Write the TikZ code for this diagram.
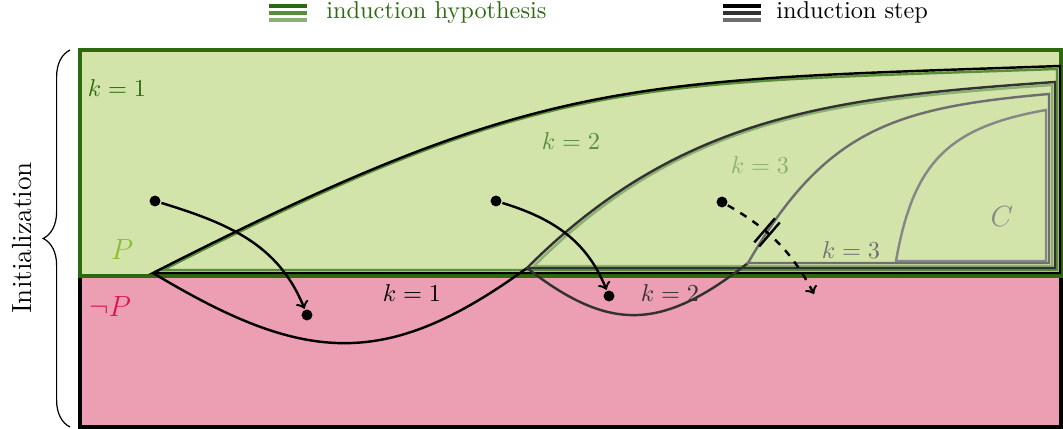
\documentclass[tikz,border=0pt]{standalone}
\usepackage{amsmath,amssymb}
\usepackage{xcolor}
\usepackage{tikz}
\usetikzlibrary{decorations.pathreplacing,decorations.markings}

\definecolor{hypone}{RGB}{45,106,14}
\definecolor{hyptwo}{RGB}{90,140,60}
\definecolor{hypthree}{RGB}{140,175,115}
\definecolor{steptwo}{RGB}{50,50,50}
\definecolor{stepthree}{RGB}{110,110,110}
\definecolor{setC}{RGB}{135,135,135}
\definecolor{goodfill}{RGB}{211,228,171}
\definecolor{badfill}{RGB}{236,159,178}
\definecolor{Pcol}{RGB}{140,190,50}
\definecolor{notPcol}{RGB}{215,25,80}

\begin{document}
\begin{tikzpicture}[x=0.01443cm, y=0.01443cm, >=to, line width=1pt]

\tikzstyle{dot}     = [circle, fill=black, inner sep=0pt, minimum size=4.5pt]
\tikzstyle{legline} = [line width=1.3pt]
\tikzstyle{border}  = [line width=1.25pt]
\tikzstyle{blocked} = [dashed, postaction={decorate},
                       decoration={markings, mark=at position 0.38 with
                       {\draw[solid, -] (-1.3pt,-6.5pt) -- (-1.3pt,6.5pt)
                                        (1.3pt,-6.5pt) -- (1.3pt,6.5pt);}}]

\useasboundingbox (0,0) rectangle (1063,-429);

% ── Legend ─────────────────────────────────────────────
\draw[legline, hypone]    (269,-6)  -- (307,-6);
\draw[legline, hyptwo]    (269,-13) -- (307,-13);
\draw[legline, hypthree]  (269,-20) -- (307,-20);
\node[anchor=west, text=hypone] (leghyp) at (317,-12.5) {induction hypothesis};
\draw[legline, black]     (723,-6)  -- (761,-6);
\draw[legline, steptwo]   (723,-13) -- (761,-13);
\draw[legline, stepthree] (723,-20) -- (761,-20);
\node[anchor=west] (legstep) at (767,-12.5) {induction step};

% ── State space: P and not P ───────────────────────────
\draw[border, fill=badfill, draw=black] (80,-276) rectangle (1061,-427);
\draw[border, fill=goodfill, draw=hypone] (80,-50) rectangle (1061,-276);

% ── Initialization brace ───────────────────────────────
\draw[line width=0.5pt, decorate, decoration={brace, amplitude=11pt}]
  (70,-427) -- (70,-50);
\node[rotate=90, font=\fontsize{11.4}{13}\selectfont] (init) at (22,-238) {Initialization};

% ── Hypothesis regions ─────────────────────────────────
\draw[hyptwo]   (163,-270) to[out=27,in=182,looseness=1.2] (1057,-69)
                -- (1057,-270) -- cycle;
\draw[hypthree] (534,-266) to[out=45,in=184] (1052,-85)
                -- (1052,-266) -- cycle;

% ── Step regions ───────────────────────────────────────
\draw[black]     (153,-273) to[out=27,in=182,looseness=1.2] (1060,-66)
                 -- (1060,-273) -- cycle;
\draw[black]     (153,-273) to[out=-31,in=-144,looseness=1.2] (527,-268);
\draw[steptwo]   (527,-268) to[out=45,in=184] (1055,-82)
                 -- (1055,-268) -- cycle;
\draw[steptwo]   (527,-268) to[out=-38,in=-142,looseness=1.24] (748,-263);
\draw[stepthree] (748,-263) to[out=60,in=185,looseness=1.15] (1049,-94)
                 -- (1049,-263) -- cycle;
\draw[setC]      (896,-261) to[out=80,in=190,looseness=1.2] (1046,-110)
                 -- (1046,-261) -- cycle;

% ── Labels ─────────────────────────────────────────────
\node[text=hypone]    (kone)   at (117,-88)  {$k=1$};
\node[text=Pcol]      (Plbl)   at (122,-250) {\large $P$};
\node[text=notPcol]   (nPlbl)  at (110,-307) {\large $\neg P$};
\node[text=hyptwo]    (ktwoh)  at (571,-141) {$k=2$};
\node[text=hypthree]  (kthrh)  at (760,-165) {$k=3$};
\node[text=stepthree] (kthrs)  at (851,-250) {$k=3$};
\node[text=setC]      (Clbl)   at (1002,-217) {\large $C$};
\node                 (kones)  at (412,-293) {$k=1$};
\node[text=steptwo]   (ktwos)  at (670,-293) {$k=2$};

% ── Transitions ────────────────────────────────────────
\node[dot] (src1) at (155,-201) {};
\node[dot] (dst1) at (307,-315) {};
\node[dot] (src2) at (496,-201) {};
\node[dot] (dst2) at (609,-296) {};
\node[dot] (src3) at (722,-202) {};
\coordinate (dst3) at (814,-294);

\draw[->] (src1) to[out=-17,in=112] (dst1);
\draw[->] (src2) to[out=-17,in=112] (dst2);
\draw[->, blocked] (src3) to[out=-30,in=118] (dst3);

\end{tikzpicture}
\end{document}
